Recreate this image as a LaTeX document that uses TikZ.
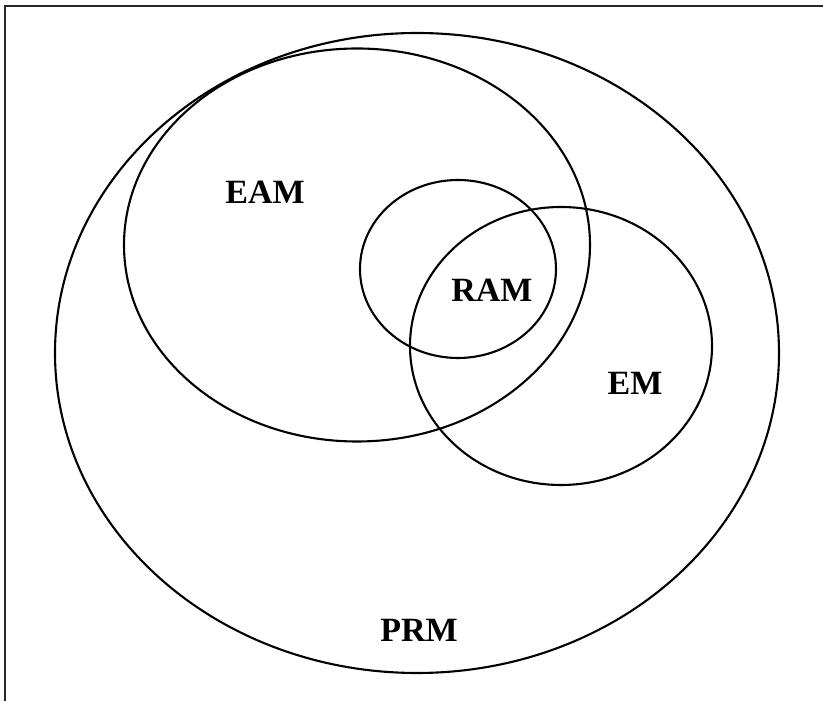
\documentclass[tikz,border=0pt]{standalone}
\usepackage{fontspec}
\setmainfont{Liberation Serif}
\usetikzlibrary{shapes.geometric}
\tikzset{
  setellipse/.style={ellipse, draw, line width=2.1pt, inner sep=0pt},
  setlabel/.style={font=\fontsize{34}{40}\selectfont\bfseries}
}
\begin{document}
\begin{tikzpicture}[x=1pt, y=1pt]
        \useasboundingbox (0,0) rectangle (823,701);
        % Frame
        \coordinate (tl) at (5,695);
        \coordinate (tr) at (823,695);
        \coordinate (bl) at (5,0);
        \draw[line width=2pt, black!85] (tr) -- (tl) -- (bl);

        % Sets
        \node (prm) at (417,348) [setellipse, minimum width=724pt, minimum height=640pt] {};
        \node (eam) at (357,456) [setellipse, minimum width=466pt, minimum height=393pt] {};
        \node (ram) at (458,432) [setellipse, minimum width=196pt, minimum height=178pt] {};
        \node (em)  at (561,355) [setellipse, minimum width=302pt, minimum height=278pt] {};

        % Labels
        \node (eamlabel) at (265,509) [setlabel] {EAM};
        \node (ramlabel) at (492,411) [setlabel] {RAM};
        \node (emlabel)  at (635,318) [setlabel] {EM};
        \node (prmlabel) at (419,71)  [setlabel] {PRM};
      \end{tikzpicture}
\end{document}
